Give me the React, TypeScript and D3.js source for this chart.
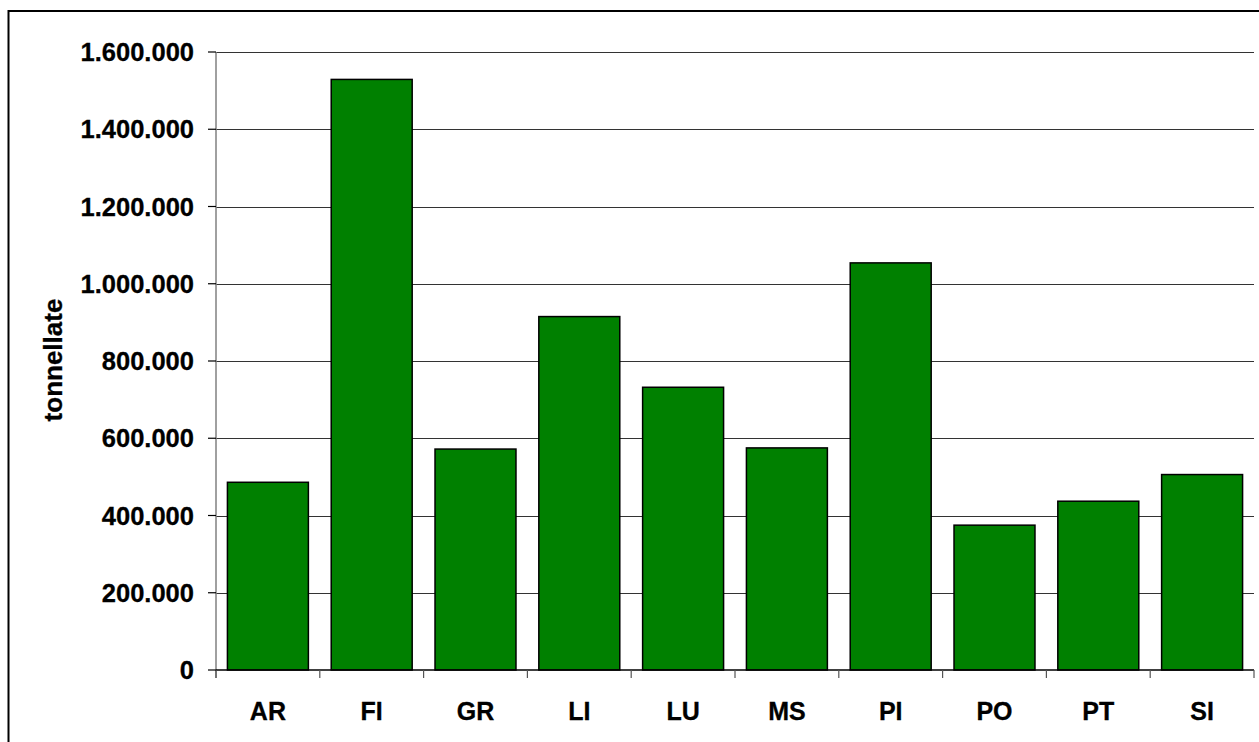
import React from "react";
import * as d3 from "d3";

const categories = ["AR", "FI", "GR", "LI", "LU", "MS", "PI", "PO", "PT", "SI"];
const values = [486000, 1529000, 572000, 915000, 732000, 575000, 1054000, 375000, 437000, 506000];
const yTicks = [0, 200000, 400000, 600000, 800000, 1000000, 1200000, 1400000, 1600000];
const yTitle = "tonnellate";

const W = 1259;
const H = 742;
const left = 216;
const right = 1254;
const top = 52;
const bottom = 670;
const font = "'Liberation Sans', Arial, sans-serif";

const locale = d3.formatLocale({ decimal: ",", thousands: ".", grouping: [3], currency: ["", ""] });
const fmt = locale.format(",.0f");

export default function App() {
  const x = d3.scaleBand<string>().domain(categories).range([left, right]).paddingInner(0.22).paddingOuter(0.11);
  const y = d3.scaleLinear().domain([0, 1600000]).range([bottom, top]);
  const step = x.step();
  const boundaries = d3.range(categories.length + 1).map((i) => left + i * step);

  return (
    <div style={{ position: "fixed", left: 0, top: 0, width: W, height: H, background: "#fff" }}>
      <svg width={W} height={H} style={{ display: "block" }}>
        <rect x={8.5} y={11} width={W + 20} height={H + 20} fill="#fff" stroke="#000" strokeWidth={2} />
        {yTicks.filter((t) => t > 0).map((t) => (
          <line key={"g" + t} x1={left} x2={right} y1={Math.round(y(t)) + 0.5} y2={Math.round(y(t)) + 0.5} stroke="#333" strokeWidth={1} />
        ))}
        {categories.map((c, i) => (
          <rect
            key={c}
            x={x(c)}
            y={y(values[i])}
            width={x.bandwidth()}
            height={bottom - y(values[i])}
            fill="#008000"
            stroke="#000"
            strokeWidth={1.5}
          />
        ))}
        <line x1={left} x2={left} y1={top} y2={bottom + 8} stroke="#808080" strokeWidth={1.5} />
        <line x1={left} x2={right} y1={bottom} y2={bottom} stroke="#000" strokeWidth={1.5} />
        {boundaries.map((b, i) => (
          <line key={"xt" + i} x1={b} x2={b} y1={bottom} y2={bottom + 8} stroke="#555" strokeWidth={1.2} />
        ))}
        {yTicks.map((t) => (
          <g key={"yt" + t}>
            <line x1={left - 8} x2={left} y1={y(t)} y2={y(t)} stroke="#000" strokeWidth={1.2} />
            <text x={194} y={y(t)} dy="0.36em" textAnchor="end" fontFamily={font} fontWeight="bold" fontSize={25.5} fill="#000" stroke="#000" strokeWidth={0.3}>
              {fmt(t)}
            </text>
          </g>
        ))}
        {categories.map((c) => (
          <text key={"xl" + c} x={(x(c) as number) + x.bandwidth() / 2} y={720} textAnchor="middle" fontFamily={font} fontWeight="bold" fontSize={25} fill="#000" stroke="#000" strokeWidth={0.3}>
            {c}
          </text>
        ))}
        <text transform={`translate(61.5,360) rotate(-90)`} textAnchor="middle" fontFamily={font} fontWeight="bold" fontSize={26} fill="#000" stroke="#000" strokeWidth={0.3}>
          {yTitle}
        </text>
      </svg>
    </div>
  );
}
